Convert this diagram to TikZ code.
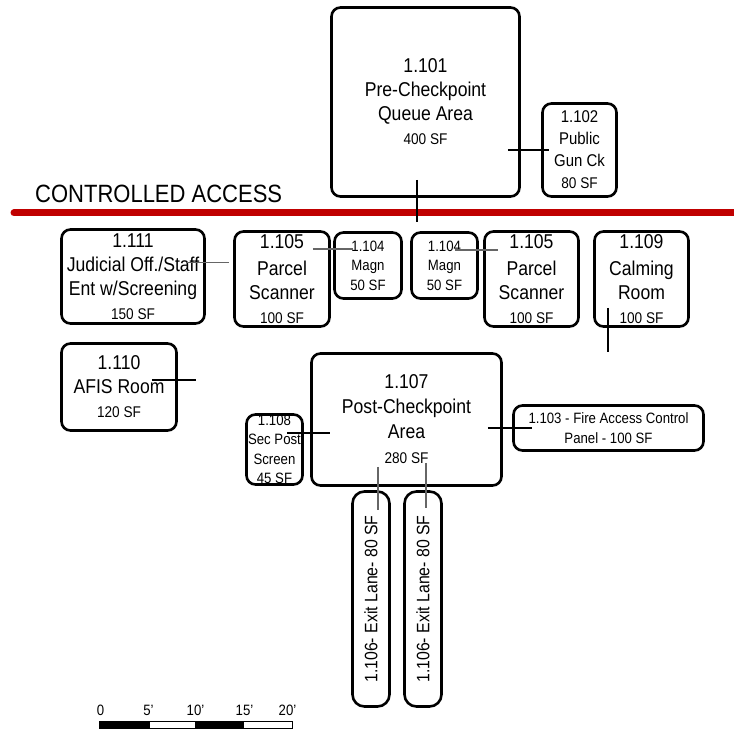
\documentclass[tikz,border=0pt]{standalone}
\usepackage{fontspec}
\setmainfont{Liberation Sans}[FakeStretch=0.88]
\usetikzlibrary{calc}
\definecolor{barred}{HTML}{C00000}
\tikzset{
  room/.style={draw=black, line width=2.6pt, rounded corners=9pt, align=center,
    inner sep=0pt, font=\fontsize{20}{24}\selectfont},
  smallroom/.style={room, font=\fontsize{15}{19.5}\selectfont},
  lane/.style={room, rotate=90, rounded corners=12pt, minimum width=215pt,
    minimum height=37pt, font=\fontsize{18}{20}\selectfont},
  leader/.style={line width=1.1pt, draw=black},
  greyleader/.style={leader, draw=black!60},
  scalelbl/.style={font=\fontsize{15}{15}\selectfont, inner sep=0pt}
}
\newcommand{\area}[1]{{\fontsize{15.5}{17}\selectfont #1}}

\begin{document}
\begin{tikzpicture}[x=1pt,y=-1pt]
  \useasboundingbox[fill=white] (0,0) rectangle (734,730);

  % public side
  \node[room,minimum width=188pt,minimum height=189pt] (r101) at (425.5,102)
    {1.101\\Pre-Checkpoint\\Queue Area\\\area{400 SF}};
  \node[room,minimum width=74pt,minimum height=93pt,font=\fontsize{17}{22}\selectfont] (r102) at (579.5,150)
    {1.102\\Public\\Gun Ck\\\area{80 SF}};

  \node[font=\fontsize{25}{25}\selectfont,inner sep=0pt,anchor=west] (ctrl) at (35,194) {CONTROLLED ACCESS};
  \draw[barred,line width=7pt,line cap=round] (14,213) -- (734,213);

  % checkpoint row
  \node[room,minimum width=143pt,minimum height=94pt] (r111) at (133,276.5)
    {1.111\\Judicial Off./Staff\\Ent w/Screening\\\area{150 SF}};
  \node[room,minimum width=95pt,minimum height=95pt] (r105a) at (282,279)
    {1.105\\[3pt]Parcel\\Scanner\\\area{100 SF}};
  \node[smallroom,minimum width=67pt,minimum height=66pt] (r104a) at (368,265.5)
    {1.104\\Magn\\50 SF};
  \node[smallroom,minimum width=66pt,minimum height=66pt] (r104b) at (444.5,265.5)
    {1.104\\Magn\\50 SF};
  \node[room,minimum width=94pt,minimum height=95pt] (r105b) at (531.5,279)
    {1.105\\[3pt]Parcel\\Scanner\\\area{100 SF}};
  \node[room,minimum width=94pt,minimum height=95pt] (r109) at (641.5,279)
    {1.109\\[3pt]Calming\\Room\\\area{100 SF}};

  % secure side
  \node[room,minimum width=115pt,minimum height=87pt] (r110) at (119,387)
    {1.110\\AFIS Room\\\area{120 SF}};
  \node[room,minimum width=190pt,minimum height=132pt,font=\fontsize{20}{25}\selectfont] (r107) at (406.5,419.5)
    {1.107\\Post-Checkpoint\\Area\\\area{280 SF}};
  \node[smallroom,minimum width=56pt,minimum height=70pt,inner ysep=-1pt] (r108) at (274.5,449.5)
    {1.108\\Sec Post\\Screen\\45 SF};
  \node[smallroom,minimum width=190pt,minimum height=45pt] (r103) at (608.5,428)
    {1.103 - Fire Access Control\\Panel - 100 SF};
  \node[lane] (l1) at (371,599) {1.106- Exit Lane- 80 SF};
  \node[lane] (l2) at (423,599) {1.106- Exit Lane- 80 SF};

  % leader lines
  \coordinate (cut) at (417,222);
  \coordinate (calmend) at (608,352);
  \coordinate (afisend) at (196,380);
  \draw[leader] ($(r101.south)+(-8.5,-18)$) -- (cut);
  \draw[leader] ($(r101.east |- r102.west)+(-13,0)$) -- ($(r102.west)+(8,0)$);
  \draw[greyleader] ($(r111.east)+(-19,-14)$) -- ($(r105a.west |- r111.east)+(-4,-14)$);
  \draw[greyleader] ($(r105a.east)+(-18,-30)$) -- ($(r104a.west |- r105a.east)+(20,-30)$);
  \draw[greyleader] ($(r104b.east)+(-24,-15.5)$) -- ($(r105b.west |- r104b.east)+(15,-15.5)$);
  \draw[leader] ($(r109.south)+(-33.5,-20)$) -- (calmend);
  \draw[leader] ($(r110.east)+(-26,-7)$) -- (afisend);
  \draw[leader] ($(r108.east)+(-17,-16.5)$) -- ($(r107.west |- r108.east)+(20,-16.5)$);
  \draw[leader] ($(r107.east)+(-15,8.5)$) -- ($(r103.west)+(20,0)$);
  \draw[greyleader] ($(l1 |- r107.south)+(7,-20)$) -- ($(l1.east)+(7,20)$);
  \draw[greyleader] ($(l2 |- r107.south)+(3,-24)$) -- ($(l2.east)+(3,18)$);

  % scale bar
  \fill (99,721) rectangle (150,728);
  \fill (195,721) rectangle (244,728);
  \draw[line width=0.8pt] (99,721) rectangle (292,728);
  \foreach \x/\t [count=\i] in {100.5/0,148.5/5',195.5/10',244.5/15',287.5/20'}
    \node[scalelbl] (sc\i) at (\x,710) {\t};
\end{tikzpicture}
\end{document}
